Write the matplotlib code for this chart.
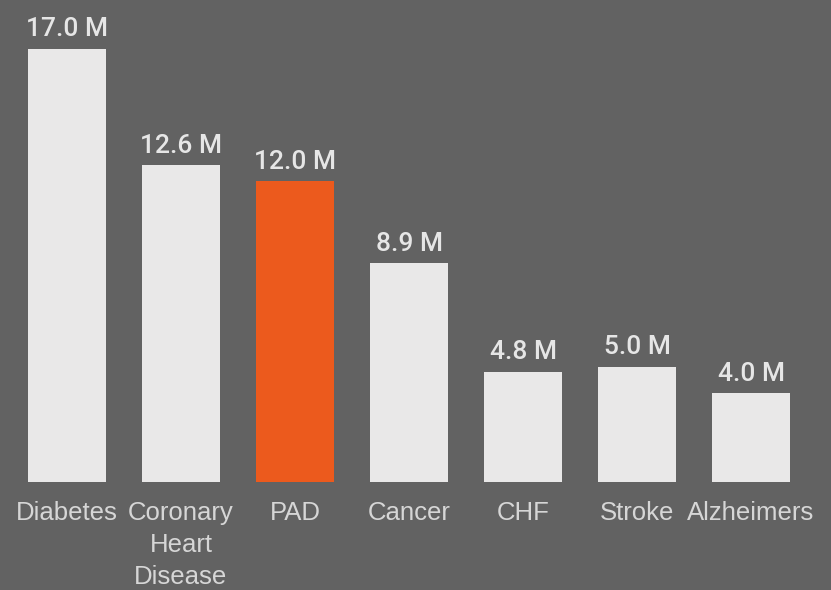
import matplotlib
matplotlib.use("Agg")
import matplotlib.pyplot as plt

categories = ["Diabetes", "Coronary\nHeart\nDisease", "PAD", "Cancer", "CHF", "Stroke", "Alzheimers"]
values = [17.0, 12.6, 12.0, 8.9, 4.8, 5.0, 4.0]
value_labels = ["17.0 M", "12.6 M", "12.0 M", "8.9 M", "4.8 M", "5.0 M", "4.0 M"]
highlight = "PAD"

BG = "#626262"
BAR = "#e9e8e8"
ACCENT = "#ec5a1d"
TEXT = "#e6e6e6"
TICK_TEXT = "#d6d6d6"

plt.rcParams["font.family"] = ["Liberation Sans", "DejaVu Sans"]

fig = plt.figure(figsize=(8.31, 5.90), dpi=100, facecolor=BG)
ax = fig.add_axes([0, 108 / 590, 1, 482 / 590])
ax.set_facecolor(BG)

x = list(range(len(categories)))
colors = [ACCENT if c.startswith(highlight) else BAR for c in categories]
ax.bar(x, values, width=0.69, color=colors, edgecolor="none")

for xi, v, lab in zip(x, values, value_labels):
    ax.annotate(lab, (xi, v), xytext=(0, 5.5), textcoords="offset points",
                ha="center", va="bottom", fontsize=19, color=TEXT,
                family=["Roboto", "Liberation Sans"], fontweight="medium")

ax.set_xlim(-67 / 114, (831 - 67) / 114)
ax.set_ylim(0.65, 0.65 + 482 / 26.5)
ax.set_xticks(x)
ax.set_xticklabels(categories, fontsize=18.5, color=TICK_TEXT, linespacing=1.42)
ax.tick_params(axis="x", length=0, pad=14)
ax.set_yticks([])
for s in ax.spines.values():
    s.set_visible(False)

fig.savefig("out.png", dpi=100, facecolor=BG)
